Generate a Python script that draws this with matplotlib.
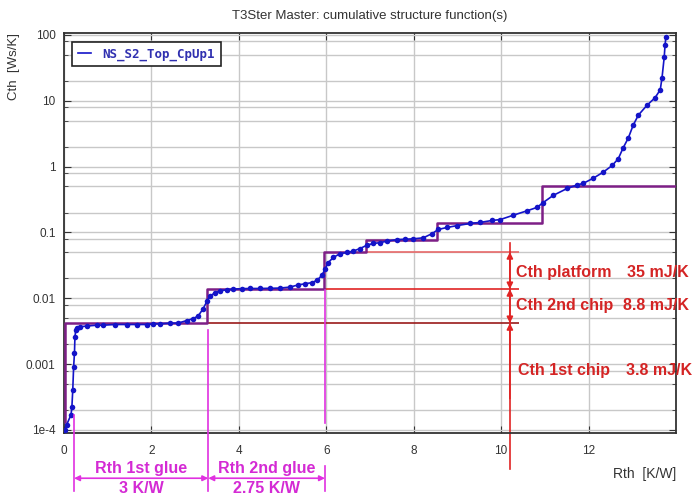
import numpy as np
import matplotlib
matplotlib.use("Agg")
import matplotlib.pyplot as plt
from matplotlib.ticker import FixedLocator, NullFormatter, LogLocator
from matplotlib.lines import Line2D

plt.rcParams['font.family'] = ['Liberation Sans', 'DejaVu Sans']

# cumulative structure function
rth = [0.02, 0.06, 0.16, 0.18, 0.20, 0.22, 0.24, 0.25, 0.27, 0.30, 0.37, 0.53,
       0.75, 0.89, 1.17, 1.44, 1.67, 1.90, 2.04, 2.20, 2.43, 2.61, 2.81, 2.95,
       3.07, 3.18, 3.27, 3.34, 3.46, 3.57, 3.73, 3.87, 4.07, 4.26, 4.49, 4.71,
       4.94, 5.17, 5.36, 5.51, 5.67, 5.79, 5.90, 5.97, 6.04, 6.16, 6.32, 6.48,
       6.61, 6.77, 6.93, 7.07, 7.23, 7.40, 7.62, 7.80, 7.99, 8.22, 8.42, 8.56,
       8.76, 8.99, 9.29, 9.52, 9.79, 9.98, 10.27, 10.59, 10.82, 10.96, 11.19,
       11.51, 11.74, 11.88, 12.11, 12.33, 12.54, 12.68, 12.79, 12.91, 13.02,
       13.14, 13.34, 13.52, 13.64, 13.68, 13.73, 13.75, 13.77]
cth = [1.0e-4, 1.2e-4, 1.7e-4, 2.2e-4, 4.0e-4, 9.0e-4, 0.0015, 0.0026, 0.0033,
       0.0036, 0.0037, 0.0038, 0.0039, 0.0039, 0.0040, 0.0040, 0.0040, 0.0040,
       0.0041, 0.0041, 0.0042, 0.0042, 0.0046, 0.0049, 0.0054, 0.0069, 0.0090,
       0.0108, 0.0122, 0.0130, 0.0135, 0.0138, 0.0140, 0.0141, 0.0141, 0.0142,
       0.0143, 0.0148, 0.0160, 0.0166, 0.0173, 0.0188, 0.0224, 0.0275, 0.0346,
       0.0417, 0.0478, 0.0498, 0.0519, 0.0570, 0.0640, 0.0680, 0.0700, 0.0740,
       0.0780, 0.0790, 0.0800, 0.0830, 0.0960, 0.111, 0.119, 0.127, 0.137,
       0.142, 0.152, 0.157, 0.182, 0.213, 0.240, 0.284, 0.365, 0.466, 0.527,
       0.557, 0.668, 0.82, 1.04, 1.32, 1.92, 2.73, 4.25, 6.07, 8.6, 11.1, 14.7,
       22.3, 45.6, 71.0, 94.0]

# step approximation (purple)
step_rth = [0.02, 0.02, 3.27, 5.95, 6.91, 8.53, 10.94, 14.0]
step_cth = [1.3e-4, 0.0042, 0.0138, 0.0504, 0.0766, 0.139, 0.507, 0.507]

yticks = [1e-4, 1e-3, 1e-2, 1e-1, 1, 10, 100]
ytick_labels = ['1e-4', '0.001', '0.01', '0.1', '1', '10', '100']
xticks = [0, 2, 4, 6, 8, 10, 12]

fig = plt.figure(figsize=(6.94, 4.97), dpi=100)
ax = fig.add_axes([64/694, 1-433/497, 612/694, 400/497])

ax.set_yscale('log')
ax.set_xlim(0, 14)
ax.set_ylim(9e-5, 107)

ax.step(step_rth, step_cth, where='post', color='#7d1f86', lw=1.8, zorder=3)
ax.plot(rth, cth, color='#1414c8', lw=1.2, marker='o', markersize=4,
        markeredgewidth=0, zorder=4)

# axes, grid
ax.yaxis.set_major_locator(FixedLocator(yticks))
ax.set_yticklabels(ytick_labels)
ax.yaxis.set_minor_locator(LogLocator(base=10, subs=[2, 5, 8]))
ax.yaxis.set_minor_formatter(NullFormatter())
ax.set_xticks(xticks)
ax.grid(True, which='major', color='#c8c8c8', lw=1)
ax.grid(True, which='minor', axis='y', color='#c8c8c8', lw=1)
ax.set_axisbelow(True)
ax.tick_params(which='both', direction='in', top=True, right=True,
               labelsize=8.5, labelcolor='#333333', color='#333333')
ax.tick_params(which='major', length=5)
ax.tick_params(which='minor', length=3)
ax.tick_params(axis='x', pad=9)
ax.tick_params(axis='y', pad=6)
for s in ax.spines.values():
    s.set_color('#333333')
    s.set_linewidth(1.3)

ax.set_title('T3Ster Master: cumulative structure function(s)', fontsize=9.5,
             color='#333333', pad=10)
ax.set_ylabel('Cth  [Ws/K]', fontsize=9.5, color='#333333', loc='top')
ax.yaxis.set_label_coords(-0.072, 1.0)
ax.set_xlabel('Rth  [K/W]', fontsize=10, color='#333333', loc='right')
ax.xaxis.set_label_coords(1.0, -0.085)

leg = ax.legend([Line2D([], [], color='#1414c8', lw=1.2)], ['NS_S2_Top_CpUp1'],
                loc='upper left', bbox_to_anchor=(0.013, 0.978), borderaxespad=0,
                fancybox=False, edgecolor='#222222', framealpha=1,
                handlelength=1.1, handletextpad=0.9, borderpad=0.45,
                prop={'family': 'DejaVu Sans Mono', 'weight': 'bold', 'size': 9})
leg.get_texts()[0].set_color('#3030b0')
leg.get_frame().set_linewidth(1.2)

# red Cth annotation
red = '#e02424'
xr = 10.2
ax.hlines(0.0504, 6.91, 10.4, color='#e86a6a', lw=1.2, zorder=2)
ax.hlines(0.0138, 5.95, 10.4, color=red, lw=1.2, zorder=2)
ax.hlines(0.0042, 3.27, 10.4, color='#9a1a1a', lw=1.2, zorder=2)
ax.plot([xr, xr], [2.6e-5, 0.068], color=red, lw=1.2, clip_on=False, zorder=2)
arr = dict(arrowstyle='<|-|>', color=red, lw=1.2, mutation_scale=9, shrinkA=0, shrinkB=0)
ax.annotate('', xy=(xr, 0.0504), xytext=(xr, 0.0138), arrowprops=arr)
ax.annotate('', xy=(xr, 0.0138), xytext=(xr, 0.0042), arrowprops=arr)
ax.annotate('', xy=(xr, 0.0042), xytext=(xr, 3e-4),
            arrowprops=dict(arr, arrowstyle='-|>'))
tkw = dict(color='#d42424', fontsize=11.5, fontweight='bold', va='center', clip_on=False)
ax.text(10.34, 0.025, 'Cth platform', **tkw)
ax.text(12.88, 0.025, '35 mJ/K', **tkw)
ax.text(10.34, 0.0079, 'Cth 2nd chip', **tkw)
ax.text(12.78, 0.0079, '8.8 mJ/K', **tkw)
ax.text(10.38, 8.1e-4, 'Cth 1st chip', **tkw)
ax.text(12.86, 8.1e-4, '3.8 mJ/K', **tkw)

# magenta Rth annotation
mag = '#e030e0'
ax.plot([0.23, 0.23], [1.2e-5, 1.68e-4], color=mag, lw=1.2, clip_on=False, zorder=5)
ax.plot([3.30, 3.30], [1.2e-5, 0.0033], color=mag, lw=1.2, clip_on=False, zorder=5)
ax.plot([5.97, 5.97], [1.27e-4, 0.0135], color=mag, lw=1.2, zorder=5)
ax.plot([5.97, 5.97], [1.2e-5, 2.8e-5], color=mag, lw=1.2, clip_on=False, zorder=5)
marr = dict(arrowstyle='<|-|>', color=mag, lw=1.2, mutation_scale=8, shrinkA=0, shrinkB=0)
ax.annotate('', xy=(0.23, 1.85e-5), xytext=(3.30, 1.85e-5), arrowprops=marr,
            annotation_clip=False)
ax.annotate('', xy=(3.30, 1.85e-5), xytext=(5.97, 1.85e-5), arrowprops=marr,
            annotation_clip=False)
mkw = dict(color='#d42ad4', fontsize=11.5, fontweight='bold', ha='center',
           va='center', clip_on=False)
ax.text(1.77, 2.6e-5, 'Rth 1st glue', **mkw)
ax.text(1.77, 1.3e-5, '3 K/W', **mkw)
ax.text(4.63, 2.6e-5, 'Rth 2nd glue', **mkw)
ax.text(4.63, 1.3e-5, '2.75 K/W', **mkw)

fig.savefig('out.png', dpi=100)
